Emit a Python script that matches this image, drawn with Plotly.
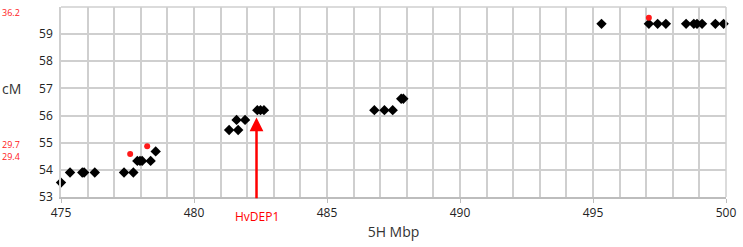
import plotly.graph_objects as go

# Black markers (5H Mbp, cM)
black_x = [475.0, 475.34, 475.8, 475.87, 476.27, 477.37, 477.72, 477.87, 477.97, 478.05, 478.37, 478.56,
           481.32, 481.66, 481.6, 481.92,
           482.38, 482.5, 482.63,
           486.78, 487.16, 487.47, 487.79, 487.87,
           495.32, 497.1, 497.43, 497.74, 498.5, 498.79, 498.91, 499.1, 499.6, 499.91]
black_y = [53.53, 53.9, 53.9, 53.9, 53.9, 53.9, 53.9, 54.33, 54.33, 54.33, 54.33, 54.68,
           55.47, 55.47, 55.84, 55.84,
           56.2, 56.2, 56.2,
           56.2, 56.2, 56.2, 56.62, 56.62,
           59.38, 59.38, 59.38, 59.38, 59.38, 59.38, 59.38, 59.38, 59.38, 59.38]

# Red markers
red_x = [477.6, 478.24, 497.1]
red_y = [54.58, 54.87, 59.6]

# Red side labels and their y positions (cM)
side_labels = ["36.2", "29.7", "29.4"]
side_label_y = [59.79, 54.95, 54.48]

gene_name = "HvDEP1"
gene_x = 482.35

x_ticks = [475, 480, 485, 490, 495, 500]
y_ticks = [53, 54, 55, 56, 57, 58, 59, 60]

FONT = "Open Sans"

fig = go.Figure()
fig.add_trace(go.Scatter(x=black_x, y=black_y, mode="markers",
                         marker=dict(symbol="diamond", size=8, color="black"),
                         cliponaxis=False, showlegend=False, hoverinfo="skip"))
fig.add_trace(go.Scatter(x=red_x, y=red_y, mode="markers",
                         marker=dict(symbol="circle", size=6, color="#ff1a1a"),
                         cliponaxis=False, showlegend=False, hoverinfo="skip"))

grid = "#cfcfcf"
fig.update_xaxes(range=[475, 500], tickvals=x_ticks, ticktext=[str(v) for v in x_ticks],
                 showgrid=True, gridcolor=grid, gridwidth=1.5,
                 minor=dict(dtick=1, showgrid=True, gridcolor=grid, gridwidth=1.5),
                 ticks="outside", ticklen=4, tickcolor="#bdbdbd",
                 showline=True, linecolor="#bdbdbd", linewidth=1.5,
                 zeroline=False, tickfont=dict(size=12, color="#222", family=FONT),
                 title=dict(text="5H Mbp", font=dict(size=14, color="#333", family=FONT), standoff=7))
fig.update_yaxes(range=[53, 60], tickvals=y_ticks, ticktext=[str(v) for v in y_ticks],
                 showgrid=True, gridcolor=grid, gridwidth=1.5,
                 ticks="", showline=True, linecolor=grid, linewidth=1.5, ticklabelstandoff=4,
                 zeroline=False, tickfont=dict(size=12, color="#222", family=FONT))

fig.add_shape(type="line", xref="paper", yref="paper", x0=1, x1=1, y0=0, y1=1,
              line=dict(color=grid, width=1.5))
fig.add_shape(type="line", xref="paper", yref="paper", x0=0, x1=1, y0=1, y1=1,
              line=dict(color=grid, width=1.5))

# y-axis label
fig.add_annotation(text="cM", xref="paper", yref="y", x=-0.057, y=56.98, xanchor="right",
                   showarrow=False, font=dict(size=14, color="#333", family=FONT))

for t, yv in zip(side_labels, side_label_y):
    fig.add_annotation(text=t, xref="paper", yref="y", x=-0.059, y=yv, xanchor="right",
                       showarrow=False, font=dict(size=9, color="#ff2020", family=FONT))

# Arrow for gene
fig.add_annotation(x=gene_x, y=55.93, ax=gene_x, ay=52.9, xref="x", yref="y",
                   axref="x", ayref="y", text="", showarrow=True,
                   arrowhead=2, arrowsize=1.1, arrowwidth=2.5, arrowcolor="#ff0000")
fig.add_annotation(text=gene_name, x=gene_x, xref="x", yref="paper", y=-0.105,
                   yanchor="middle", showarrow=False,
                   font=dict(size=12, color="#ff0000", family=FONT))

fig.update_layout(width=743, height=247, margin=dict(l=61, r=14, t=7, b=50, pad=0),
                  plot_bgcolor="white", paper_bgcolor="white",
                  font=dict(family=FONT), hovermode=False)

fig.write_html("out.html", config={"displayModeBar": False},
               post_script="document.body.style.margin='0px';")
